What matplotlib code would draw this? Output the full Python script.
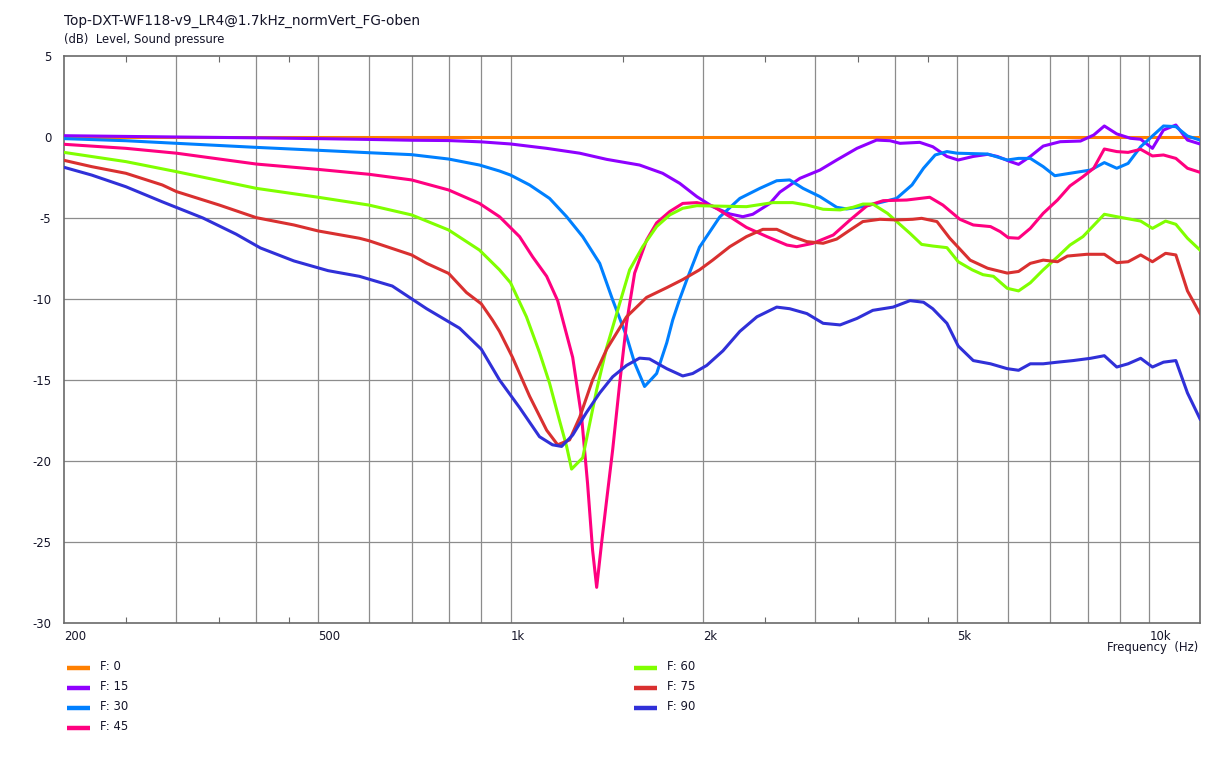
import matplotlib
matplotlib.use("Agg")
import matplotlib.pyplot as plt
from matplotlib.lines import Line2D
from matplotlib.ticker import FixedLocator, NullFormatter

# ------------------------------------------------------------
# DATA
# ------------------------------------------------------------

f_0 = [200, 12000]
db_0 = [0.0, 0.0]

f_15 = [200, 300, 400, 500, 600, 700, 800, 900, 1000, 1139, 1283, 1414,
        1592, 1730, 1840, 1957, 2072, 2204, 2310, 2394, 2547, 2640, 2838,
        3050, 3240, 3485, 3740, 3926, 4070, 4370, 4580, 4820, 5020, 5300,
        5580, 5780, 6060, 6240, 6510, 6820, 7250, 7800, 8180, 8500, 8890,
        9340, 9690, 10110, 10520, 11000, 11470, 12000]
db_15 = [0.08, 0.0, -0.05, -0.1, -0.15, -0.2, -0.22, -0.3, -0.43, -0.7,
         -1.0, -1.38, -1.73, -2.24, -2.86, -3.68, -4.3, -4.75, -4.92,
         -4.77, -4.1, -3.4, -2.55, -2.04, -1.42, -0.7, -0.19, -0.23, -0.39,
         -0.33, -0.6, -1.2, -1.42, -1.2, -1.07, -1.2, -1.52, -1.69, -1.2,
         -0.56, -0.29, -0.25, 0.12, 0.68, 0.19, -0.08, -0.14, -0.7, 0.43,
         0.74, -0.19, -0.43]

f_30 = [200, 250, 300, 400, 500, 600, 700, 800, 894, 961, 1000, 1071,
        1151, 1224, 1297, 1379, 1445, 1519, 1564, 1621, 1693, 1756, 1794,
        1840, 1888, 1976, 2125, 2285, 2456, 2610, 2735, 2870, 3050, 3240,
        3360, 3560, 3830, 4020, 4250, 4430, 4620, 4820, 5000, 5580, 5990,
        6240, 6510, 6820, 7110, 7510, 8090, 8500, 8890, 9260, 9690, 10520,
        11000, 11470, 12000]
db_30 = [-0.1, -0.23, -0.39, -0.64, -0.82, -0.97, -1.09, -1.36, -1.73,
         -2.1, -2.35, -2.96, -3.79, -4.92, -6.15, -7.8, -10.06, -12.3,
         -13.95, -15.4, -14.6, -12.7, -11.3, -10.0, -8.8, -6.8, -4.94,
         -3.79, -3.17, -2.7, -2.65, -3.17, -3.68, -4.34, -4.44, -4.3, -4.0,
         -3.79, -2.96, -1.93, -1.11, -0.9, -1.0, -1.05, -1.42, -1.32, -1.32,
         -1.83, -2.39, -2.24, -2.04, -1.58, -1.93, -1.63, -0.6, 0.68, 0.64,
         0.06, -0.19]

f_45 = [200, 250, 300, 400, 500, 600, 700, 800, 894, 961, 1033, 1083,
        1139, 1185, 1251, 1292, 1320, 1344, 1364, 1388, 1414, 1445, 1482,
        1519, 1564, 1633, 1693, 1775, 1860, 1957, 2072, 2204, 2340, 2520,
        2708, 2805, 2975, 3200, 3400, 3610, 3830, 4170, 4530, 4750, 5050,
        5300, 5640, 5840, 6010, 6240, 6510, 6820, 7180, 7510, 7870, 8180,
        8500, 8890, 9260, 9690, 10110, 10520, 11000, 11470, 12000]
db_45 = [-0.45, -0.7, -1.0, -1.67, -2.0, -2.3, -2.65, -3.27, -4.1, -4.92,
         -6.15, -7.4, -8.6, -10.1, -13.6, -17.3, -21.4, -25.5, -27.8, -25.1,
         -22.4, -19.3, -15.2, -11.5, -8.4, -6.36, -5.3, -4.6, -4.1, -4.05,
         -4.26, -4.92, -5.58, -6.15, -6.67, -6.77, -6.56, -6.05, -5.12,
         -4.26, -3.93, -3.89, -3.72, -4.2, -5.08, -5.43, -5.53, -5.84, -6.21,
         -6.25, -5.64, -4.71, -3.89, -3.02, -2.45, -1.93, -0.74, -0.9, -0.95,
         -0.76, -1.17, -1.11, -1.32, -1.93, -2.18]

f_60 = [200, 250, 300, 400, 500, 600, 700, 800, 894, 961, 1000, 1059,
        1110, 1151, 1193, 1224, 1246, 1297, 1330, 1364, 1414, 1466, 1536,
        1610, 1693, 1775, 1860, 1957, 2072, 2340, 2575, 2765, 2910, 3085,
        3280, 3435, 3560, 3690, 3890, 4070, 4220, 4400, 4580, 4820, 5020,
        5280, 5490, 5700, 5990, 6240, 6510, 6820, 7180, 7510, 7870, 8500,
        8890, 9690, 10110, 10600, 11000, 11470, 12000]
db_60 = [-0.95, -1.52, -2.14, -3.17, -3.72, -4.2, -4.81, -5.74, -6.98,
         -8.2, -9.0, -11.1, -13.3, -15.2, -17.5, -19.1, -20.5, -19.8, -17.7,
         -15.6, -13.0, -10.9, -8.2, -6.77, -5.53, -4.81, -4.4, -4.24, -4.26,
         -4.3, -4.05, -4.05, -4.2, -4.46, -4.5, -4.34, -4.14, -4.14, -4.71,
         -5.4, -5.95, -6.63, -6.73, -6.83, -7.7, -8.2, -8.5, -8.6, -9.34,
         -9.5, -9.0, -8.2, -7.4, -6.67, -6.15, -4.77, -4.92, -5.19, -5.64,
         -5.19, -5.39, -6.25, -6.98]

f_75 = [200, 221, 250, 285, 300, 350, 400, 458, 500, 580, 600, 700, 739,
        800, 853, 900, 937, 961, 1007, 1071, 1139, 1185, 1237, 1283, 1344,
        1414, 1519, 1633, 1756, 1860, 1976, 2072, 2204, 2340, 2483, 2610,
        2765, 2910, 3085, 3240, 3400, 3560, 3785, 4020, 4260, 4400, 4650,
        4870, 5240, 5580, 5990, 6240, 6510, 6820, 7180, 7440, 7980, 8500,
        8890, 9260, 9690, 10110, 10600, 11000, 11470, 12000]
db_75 = [-1.44, -1.83, -2.24, -2.96, -3.37, -4.2, -4.98, -5.43, -5.8,
         -6.25, -6.4, -7.28, -7.8, -8.42, -9.6, -10.3, -11.3, -12.0, -13.6,
         -16.0, -18.1, -19.0, -18.7, -17.3, -15.0, -13.1, -11.1, -9.9, -9.3,
         -8.8, -8.2, -7.6, -6.77, -6.15, -5.7, -5.7, -6.15, -6.46, -6.56,
         -6.3, -5.74, -5.22, -5.08, -5.12, -5.08, -5.02, -5.22, -6.25, -7.6,
         -8.1, -8.4, -8.3, -7.8, -7.6, -7.7, -7.35, -7.24, -7.24, -7.76,
         -7.7, -7.28, -7.7, -7.18, -7.28, -9.5, -10.9]

f_90 = [200, 221, 250, 285, 330, 372, 406, 458, 518, 580, 653, 739, 832,
        900, 961, 1033, 1110, 1163, 1202, 1251, 1315, 1379, 1445, 1519,
        1592, 1650, 1756, 1860, 1928, 2028, 2150, 2285, 2430, 2610, 2735,
        2910, 3085, 3280, 3485, 3690, 3970, 4220, 4430, 4580, 4820, 5020,
        5300, 5640, 5990, 6240, 6510, 6820, 7180, 7600, 8090, 8500, 8890,
        9260, 9690, 10110, 10520, 11000, 11470, 12000]
db_90 = [-1.87, -2.35, -3.07, -4.0, -5.0, -6.0, -6.85, -7.65, -8.25, -8.6,
         -9.2, -10.6, -11.8, -13.1, -15.0, -16.7, -18.5, -19.0, -19.1,
         -18.4, -17.0, -15.8, -14.8, -14.1, -13.65, -13.7, -14.3, -14.75,
         -14.6, -14.1, -13.2, -12.0, -11.1, -10.5, -10.6, -10.9, -11.5,
         -11.6, -11.2, -10.7, -10.5, -10.1, -10.2, -10.6, -11.5, -12.9,
         -13.8, -14.0, -14.3, -14.4, -14.0, -14.0, -13.9, -13.8, -13.66,
         -13.5, -14.2, -14.0, -13.66, -14.2, -13.9, -13.8, -15.8, -17.4]

labels = ["F: 0", "F: 15", "F: 30", "F: 45", "F: 60", "F: 75", "F: 90"]
colors = ["#ff8000", "#8f00ff", "#0080ff", "#ff0080",
          "#80ff00", "#d93030", "#3030d8"]

series = [(f_0, db_0), (f_15, db_15), (f_30, db_30), (f_45, db_45),
          (f_60, db_60), (f_75, db_75), (f_90, db_90)]

grid_freqs = [300, 400, 500, 600, 700, 800, 900, 1000, 2000, 3000, 4000,
              5000, 6000, 7000, 8000, 9000, 10000]
label_freqs = {200: "200", 500: "500", 1000: "1k", 2000: "2k",
               5000: "5k", 10000: "10k"}
minor_freqs = [250, 350, 450, 1500, 2500, 3500, 4500]

# ------------------------------------------------------------
# FIGURE
# ------------------------------------------------------------

W, H = 1222, 759
plt.rcParams['font.family'] = ['DejaVu Sans']
TXT = "#141428"
FS = 8.35

fig = plt.figure(figsize=(W / 100, H / 100), dpi=100)
fig.patch.set_facecolor("white")

x0, x1, y0, y1 = 64, 1200, 56, 623
ax = fig.add_axes([x0 / W, 1 - y1 / H, (x1 - x0) / W, (y1 - y0) / H])

ax.set_xscale("log")
ax.set_xlim(200, 12000)
ax.set_ylim(-30, 5)

for g in grid_freqs:
    ax.axvline(g, color="#8c8c8c", linewidth=0.9, zorder=1)
for lvl in range(-25, 5, 5):
    ax.axhline(lvl, color="#8c8c8c", linewidth=0.9, zorder=1)

for (fx, dy), c in zip(series, colors):
    ax.plot(fx, dy, color=c, linewidth=2.2, solid_joinstyle="round",
            zorder=3)

for s in ax.spines.values():
    s.set_color("#6a6a6a")
    s.set_linewidth(1.2)

# x ticks: labels left aligned at the grid line
xt = sorted(set(list(label_freqs.keys()) + grid_freqs))
ax.xaxis.set_major_locator(FixedLocator(xt))
ax.set_xticklabels([label_freqs.get(v, "") for v in xt])
ax.xaxis.set_minor_locator(FixedLocator(minor_freqs))
ax.xaxis.set_minor_formatter(NullFormatter())
ax.tick_params(axis="x", which="major", length=0, pad=5,
               labelsize=FS, labelcolor=TXT)
ax.tick_params(axis="x", which="minor", direction="in", length=4,
               top=True, bottom=True, color="#6a6a6a", width=0.8)
for lab in ax.get_xticklabels():
    lab.set_horizontalalignment("left")

ax.set_yticks(range(-30, 6, 5))
ax.set_yticklabels([str(v) for v in range(-30, 6, 5)])
ax.tick_params(axis="y", length=0, pad=9, labelsize=FS, labelcolor=TXT)

# ------------------------------------------------------------
# TEXTS
# ------------------------------------------------------------

def fx(px):
    return px / W


def fy(py):
    return 1 - py / H


fig.text(fx(64), fy(21), "Top-DXT-WF118-v9_LR4@1.7kHz_normVert_FG-oben",
         fontsize=9.8, color=TXT, va="center", ha="left")
fig.text(fx(64), fy(39), "(dB)  Level, Sound pressure",
         fontsize=FS, color=TXT, va="center", ha="left")
fig.text(fx(1198), fy(647), "Frequency  (Hz)",
         fontsize=FS, color=TXT, va="center", ha="right")

# legend, two columns
for i, (lab, c) in enumerate(zip(labels, colors)):
    col, row = divmod(i, 4)
    lx = [67, 634][col]
    ly = 668 + 20 * row
    fig.add_artist(Line2D([fx(lx), fx(lx + 23)], [fy(ly), fy(ly)],
                          color=c, linewidth=3.2, solid_capstyle="butt"))
    fig.text(fx(lx + 33), fy(ly - 2), lab, fontsize=FS, color=TXT,
             va="center", ha="left")

fig.savefig("out.png", dpi=100, facecolor="white")
